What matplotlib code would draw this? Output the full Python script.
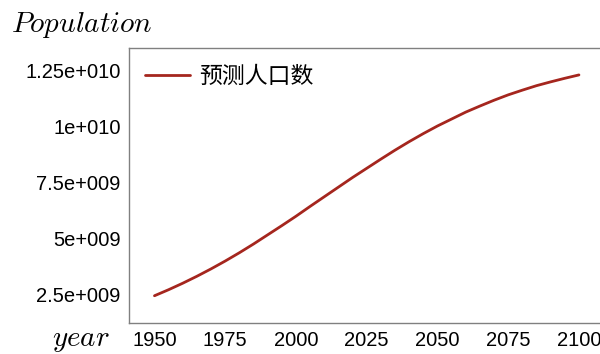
import matplotlib.pyplot as plt
from matplotlib.ticker import FuncFormatter

plt.rcParams['mathtext.fontset'] = 'cm'

# predicted population, every five years
years = [1950, 1955, 1960, 1965, 1970, 1975, 1980, 1985, 1990, 1995, 2000,
         2005, 2010, 2015, 2020, 2025, 2030, 2035, 2040, 2045, 2050,
         2055, 2060, 2065, 2070, 2075, 2080, 2085, 2090, 2095, 2100]
population = [2.46e9, 2.73e9, 3.02e9, 3.33e9, 3.66e9, 4.01e9, 4.38e9, 4.77e9,
              5.18e9, 5.59e9, 6.01e9, 6.45e9, 6.88e9, 7.31e9, 7.74e9, 8.15e9,
              8.56e9, 8.96e9, 9.34e9, 9.70e9, 10.04e9, 10.35e9, 10.66e9,
              10.93e9, 11.19e9, 11.43e9, 11.64e9, 11.84e9, 12.01e9, 12.17e9,
              12.32e9]

xticks = [1950, 1975, 2000, 2025, 2050, 2075, 2100]
yticks = [2.5e9, 5e9, 7.5e9, 1e10, 1.25e10]
legend_label = '预测人口数'


def matlab_sci(v, pos):
    mant, exp = '{:e}'.format(v).split('e')
    mant = mant.rstrip('0').rstrip('.')
    return '{}e{}{:03d}'.format(mant, exp[0], abs(int(exp)))


fig = plt.figure(figsize=(6, 3.54), dpi=100)
ax = fig.add_axes([0.215, 0.088, 0.79, 0.775])

ax.plot(years, population, color='#a5261e', lw=2.0, label=legend_label,
        solid_capstyle='round')

ax.set_xlim(1941, 2108.5)
ax.set_ylim(1.25e9, 1.35e10)
ax.set_xticks(xticks)
ax.set_yticks(yticks)
ax.yaxis.set_major_formatter(FuncFormatter(matlab_sci))
ax.tick_params(length=0, pad=6, labelsize=14.5)
for lab in ax.get_xticklabels() + ax.get_yticklabels():
    lab.set_family('Liberation Sans')

for side in ['top', 'left', 'bottom']:
    ax.spines[side].set_color('#808080')
    ax.spines[side].set_linewidth(1.0)
ax.spines['right'].set_visible(False)

leg = ax.legend(loc='upper left', frameon=False, handlelength=1.95,
                handletextpad=0.4, borderaxespad=0.3,
                prop={'family': ['Noto Sans CJK SC', 'DejaVu Sans'], 'size': 16.5})

fig.text(0.018, 0.93, r'$Population$', fontsize=21, va='center', ha='left')
fig.text(0.086, 0.04, r'$year$', fontsize=21, va='center', ha='left')

fig.savefig('out.png', dpi=100, facecolor='white')
